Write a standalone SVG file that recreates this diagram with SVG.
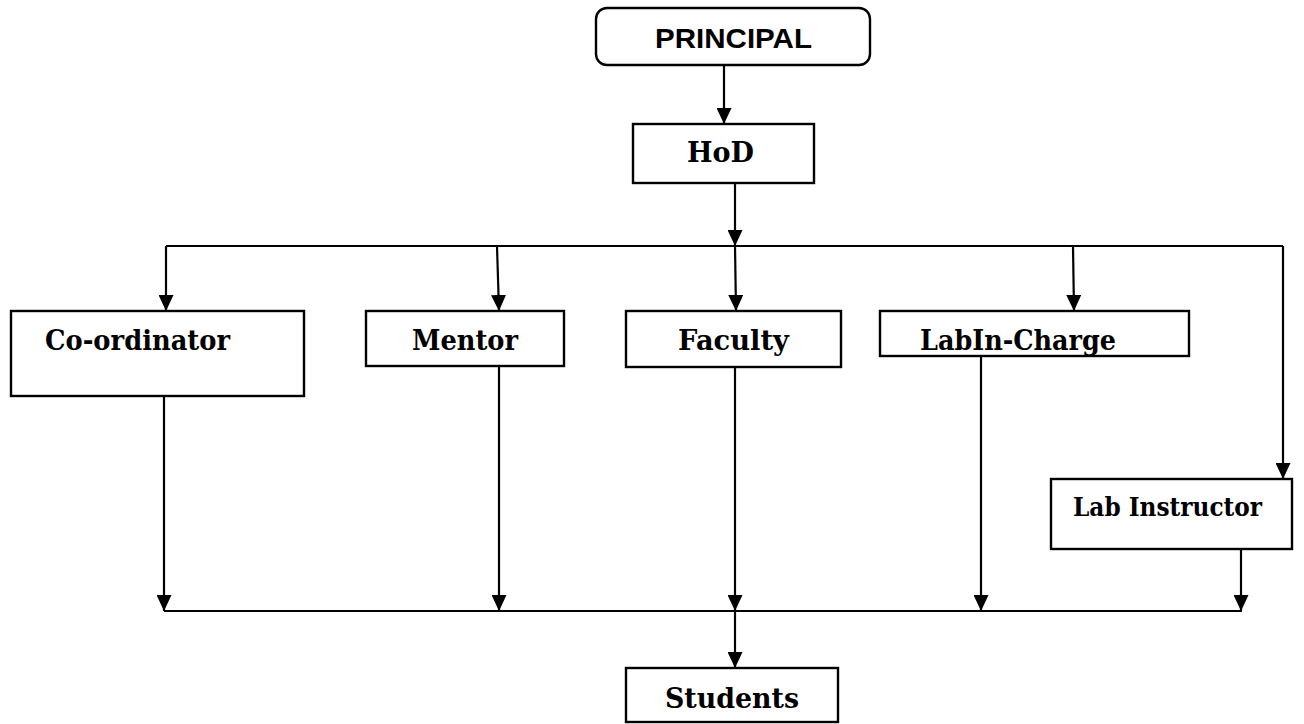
<svg xmlns="http://www.w3.org/2000/svg" width="1304" height="724" viewBox="0 0 1304 724">
<defs>
<marker id="arr" viewBox="0 0 16 15" refX="16" refY="7.5" markerWidth="16" markerHeight="15" markerUnits="userSpaceOnUse" orient="auto">
<path d="M0,0 L16,7.5 L0,15 Z" fill="#000"/>
</marker>
<style>
.box{fill:#fff;stroke:#000;stroke-width:2.4}
.lbl{font-family:"DejaVu Serif","Liberation Serif",serif;font-weight:bold;font-size:27.5px;fill:#000}
.sans{font-family:"Liberation Sans",Arial,sans-serif;font-weight:bold;font-size:28px;fill:#000}
.ln{fill:none;stroke:#000;stroke-width:2.2}
.ar{fill:none;stroke:#000;stroke-width:2.2;marker-end:url(#arr)}
</style>
</defs>
<rect width="1304" height="724" fill="#fff"/>
<g id="connectors">
<line class="ar" x1="724" y1="65" x2="724" y2="124"/>
<line class="ar" x1="735" y1="183" x2="735" y2="246"/>
<polyline class="ln" points="166,246 1283,246"/>
<line class="ar" x1="166" y1="246" x2="166" y2="311"/>
<line class="ar" x1="497" y1="246" x2="499" y2="311"/>
<line class="ar" x1="735" y1="246" x2="736" y2="311"/>
<line class="ar" x1="1073" y1="246" x2="1074" y2="311"/>
<line class="ar" x1="1283" y1="246" x2="1283" y2="479"/>
<line class="ar" x1="164" y1="396" x2="164" y2="611"/>
<line class="ar" x1="499" y1="366" x2="499" y2="611"/>
<line class="ar" x1="735" y1="367" x2="735" y2="611"/>
<line class="ar" x1="981" y1="356" x2="981" y2="611"/>
<line class="ar" x1="1241" y1="549" x2="1241" y2="611"/>
<line class="ln" x1="164" y1="611" x2="1242" y2="611"/>
<line class="ar" x1="735" y1="611" x2="735" y2="668"/>
</g>
<g id="principal">
<rect class="box" x="596" y="8" width="274" height="57" rx="11"/>
<text class="sans" x="655" y="48" textLength="157" lengthAdjust="spacingAndGlyphs">PRINCIPAL</text>
</g>
<g id="hod">
<rect class="box" x="633" y="124" width="181" height="59"/>
<text class="lbl" x="687" y="162" textLength="67" lengthAdjust="spacingAndGlyphs">HoD</text>
</g>
<g id="coordinator">
<rect class="box" x="11" y="311" width="293" height="85"/>
<text class="lbl" x="45" y="350" textLength="185" lengthAdjust="spacingAndGlyphs">Co-ordinator</text>
</g>
<g id="mentor">
<rect class="box" x="366" y="311" width="198" height="55"/>
<text class="lbl" x="412" y="350" textLength="106" lengthAdjust="spacingAndGlyphs">Mentor</text>
</g>
<g id="faculty">
<rect class="box" x="626" y="311" width="215" height="56"/>
<text class="lbl" x="678" y="350" textLength="111" lengthAdjust="spacingAndGlyphs">Faculty</text>
</g>
<g id="labincharge">
<rect class="box" x="880" y="311" width="309" height="45"/>
<text class="lbl" x="920" y="350" textLength="196" lengthAdjust="spacingAndGlyphs">LabIn-Charge</text>
</g>
<g id="labinstructor">
<rect class="box" x="1051" y="479" width="241" height="70"/>
<text class="lbl" x="1073" y="516" textLength="189" lengthAdjust="spacingAndGlyphs" style="font-size:26px">Lab Instructor</text>
</g>
<g id="students">
<rect class="box" x="626" y="668" width="212" height="54"/>
<text class="lbl" x="665" y="708" textLength="134" lengthAdjust="spacingAndGlyphs">Students</text>
</g>
</svg>
